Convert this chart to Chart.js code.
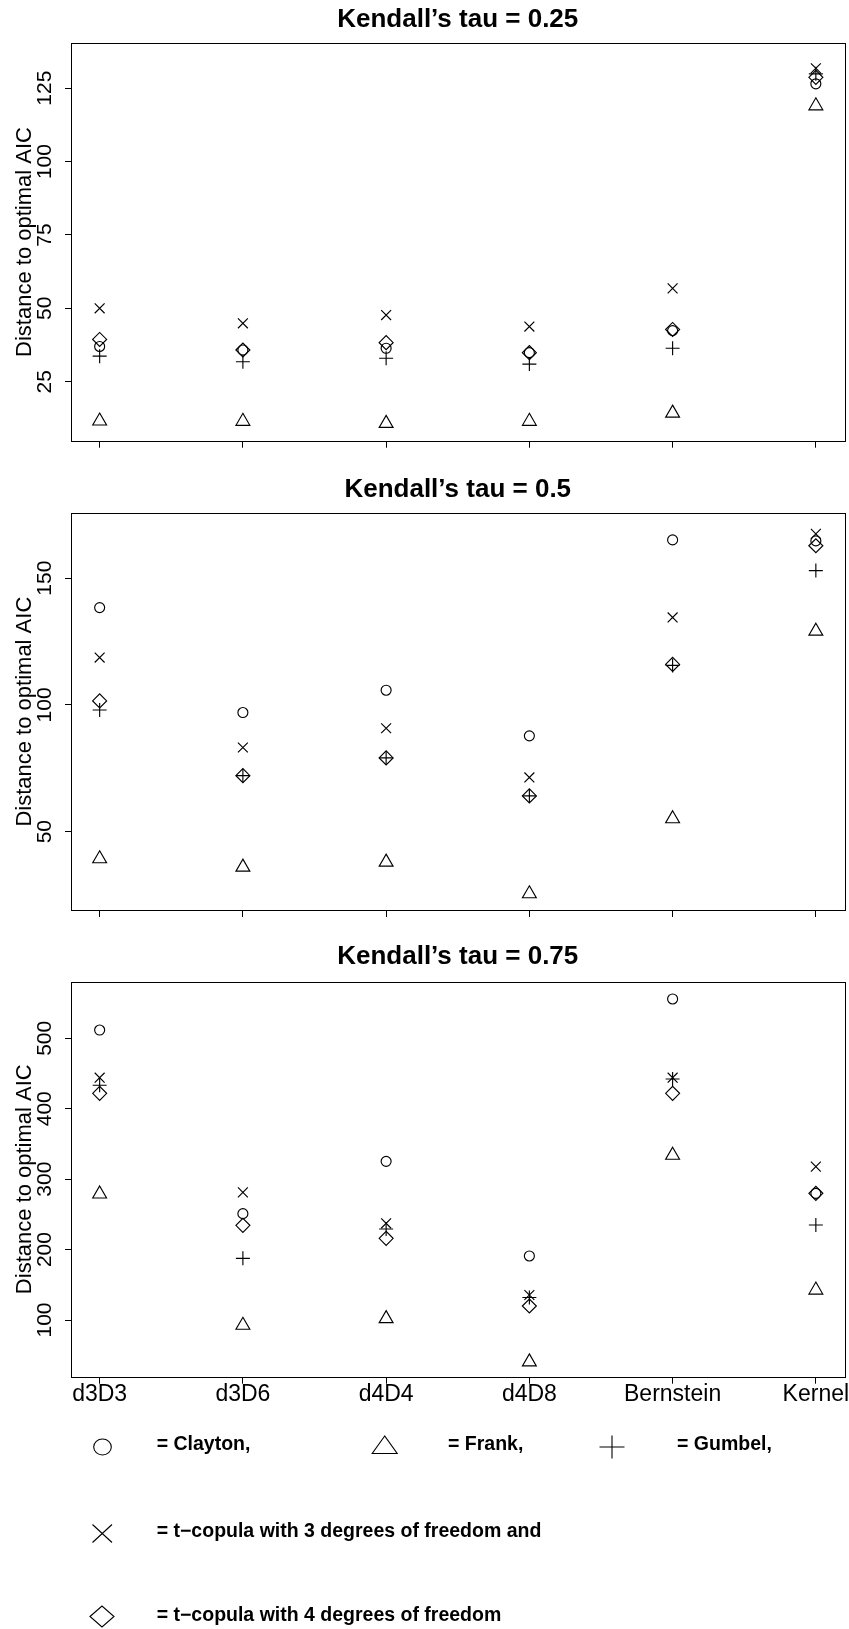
<!DOCTYPE html>
<html><head><meta charset="utf-8">
<script src="https://cdn.jsdelivr.net/npm/chart.js@4/dist/chart.umd.min.js"></script>
<style>
html,body{margin:0;padding:0;background:#fff;}
body{width:849px;height:1629px;position:relative;overflow:hidden;}
canvas{position:absolute;left:0;}
#legend{position:absolute;left:0;top:0;}
</style></head><body>
<canvas id="c1" width="849" height="470" style="top:0px;width:849px;height:470px"></canvas>
<canvas id="c2" width="849" height="468" style="top:470px;width:849px;height:468px"></canvas>
<canvas id="c3" width="849" height="480" style="top:938px;width:849px;height:480px"></canvas>
<svg id="legend" width="849" height="1629" xmlns="http://www.w3.org/2000/svg"></svg>
<script>
// ---- data ----
const categories = ['d3D3', 'd3D6', 'd4D4', 'd4D8', 'Bernstein', 'Kernel'];
const copulas = ['Clayton', 'Frank', 'Gumbel', 't-copula 3 df', 't-copula 4 df'];

// Kendall's tau = 0.25
const clayton25 = [37.0, 35.8, 36.4, 34.9, 42.4, 126.5];
const frank25   = [11.6, 11.5, 10.8, 11.5, 14.3, 119.0];
const gumbel25  = [33.7, 31.8, 33.0, 31.0, 36.4, 129.9];
const t3_25     = [50.0, 44.9, 47.7, 43.8, 56.8, 131.8];
const t4_25     = [39.4, 35.8, 38.3, 34.9, 42.8, 128.7];

// Kendall's tau = 0.5
const clayton50 = [138.4, 97.0, 105.8, 87.8, 165.1, 164.7];
const frank50   = [39.3, 36.0, 38.0, 25.5, 55.1, 129.1];
const gumbel50  = [98.0, 72.1, 79.1, 64.1, 115.6, 153.0];
const t3_50     = [118.7, 83.2, 90.8, 71.4, 134.5, 167.5];
const t4_50     = [101.6, 72.1, 79.1, 64.1, 116.0, 162.8];

// Kendall's tau = 0.75
const clayton75 = [511.8, 251.0, 325.3, 190.9, 555.9, 279.9];
const frank75   = [279.0, 92.5, 102.0, 40.5, 334.0, 142.5];
const gumbel75  = [433.3, 187.6, 229.2, 132.0, 442.2, 234.9];
const t3_75     = [444.1, 281.3, 237.3, 135.5, 444.1, 317.8];
const t4_75     = [421.9, 234.4, 216.0, 119.9, 421.9, 279.9];

const titles = ['Kendall\u2019s tau = 0.25', 'Kendall\u2019s tau = 0.5', 'Kendall\u2019s tau = 0.75'];
const yStep = [25, 50, 100];
const yRange = [[4.9, 140.3], [19.1, 175.6], [19.5, 580.4]];
const yTitle = 'Distance to optimal AIC';

// ---- styling / layout ----
const FONT = "'Liberation Sans', Arial, Helvetica, sans-serif";
Chart.defaults.font.family = FONT;
Chart.defaults.color = '#000';

const styles = [
  {pointStyle: 'circle', radius: 5},
  {pointStyle: 'triangle', radius: 8},
  {pointStyle: 'cross', radius: 7},
  {pointStyle: 'crossRot', radius: 7},
  {pointStyle: 'rectRot', radius: 7}
];

const layouts = [
  {id: 'c1', top: 0,   h: 470, titleC: 20,    areaTop: 43.3,  areaBottom: 440.7, showX: false},
  {id: 'c2', top: 470, h: 468, titleC: 490,   areaTop: 513.3, areaBottom: 910,   showX: false},
  {id: 'c3', top: 938, h: 480, titleC: 956.7, areaTop: 981.7, areaBottom: 1376.7, showX: true}
];
const panelSeries = [
  [clayton25, frank25, gumbel25, t3_25, t4_25],
  [clayton50, frank50, gumbel50, t3_50, t4_50],
  [clayton75, frank75, gumbel75, t3_75, t4_75]
];

const boxPlugin = {
  id: 'box',
  afterDraw(chart) {
    const {ctx, chartArea: a} = chart;
    ctx.save();
    ctx.strokeStyle = '#000';
    ctx.lineWidth = 1;
    ctx.strokeRect(Math.round(a.left) + 0.5, Math.round(a.top) + 0.5,
                   Math.round(a.right) - Math.round(a.left), Math.round(a.bottom) - Math.round(a.top));
    ctx.restore();
  }
};

const TITLE_SIZE = 26, TITLE_LH = TITLE_SIZE * 1.2;

layouts.forEach((L, k) => {
  const padTop = L.titleC - L.top - TITLE_LH / 2;
  const padBottom = L.areaTop - L.top - padTop - TITLE_LH;
  const xAxisH = L.top + L.h - L.areaBottom;
  const datasets = panelSeries[k].map((vals, s) => ({
    label: copulas[s],
    data: vals.map((v, i) => ({x: i + 1, y: v})),
    showLine: false,
    pointStyle: styles[s].pointStyle,
    pointRadius: styles[s].radius,
    pointHoverRadius: styles[s].radius,
    pointBorderColor: '#000',
    pointBackgroundColor: 'rgba(0,0,0,0)',
    pointBorderWidth: 1.15,
    borderColor: '#000',
    backgroundColor: 'rgba(0,0,0,0)'
  }));
  new Chart(document.getElementById(L.id), {
    type: 'scatter',
    data: {datasets},
    options: {
      responsive: false,
      animation: false,
      devicePixelRatio: 1,
      layout: {autoPadding: false, padding: {left: 0, right: 4.5, top: 0, bottom: 0}},
      plugins: {
        legend: {display: false},
        tooltip: {enabled: false},
        title: {
          display: true, text: titles[k], fullSize: false,
          color: '#000',
          font: {size: TITLE_SIZE, weight: 'bold', family: FONT},
          padding: {top: padTop, bottom: padBottom}
        }
      },
      scales: {
        x: {
          type: 'linear', position: 'bottom',
          min: 0.8, max: 6.2,
          afterFit(scale) { scale.height = xAxisH; },
          grid: {display: true, drawOnChartArea: false, drawTicks: true, tickLength: 7, color: '#000', lineWidth: 1},
          border: {display: false},
          ticks: {
            display: L.showX, stepSize: 1, includeBounds: false, autoSkip: false,
            maxRotation: 0, minRotation: 0, padding: -3,
            font: {size: 23, family: FONT}, color: '#000',
            callback: (v) => categories[v - 1] !== undefined ? categories[v - 1] : ''
          }
        },
        y: {
          type: 'linear', position: 'left',
          min: yRange[k][0], max: yRange[k][1],
          afterFit(scale) { scale.width = 71; },
          grid: {display: true, drawOnChartArea: false, drawTicks: true, tickLength: 6, color: '#000', lineWidth: 1},
          border: {display: false},
          title: {display: true, text: yTitle, color: '#000', font: {size: 22, family: FONT}, padding: {top: 11.8, bottom: 0}},
          ticks: {
            stepSize: yStep[k], includeBounds: false, autoSkip: false,
            minRotation: 90, maxRotation: 90, crossAlign: 'center', padding: 2,
            font: {size: 21, family: FONT}, color: '#000'
          }
        }
      }
    },
    plugins: [boxPlugin]
  });
});

// ---- legend (symbols + text) ----
const svg = document.getElementById('legend');
const NS = 'http://www.w3.org/2000/svg';
function el(tag, attrs) {
  const e = document.createElementNS(NS, tag);
  for (const a in attrs) e.setAttribute(a, attrs[a]);
  svg.appendChild(e);
  return e;
}
const stroke = {fill: 'none', stroke: '#000', 'stroke-width': 1.1};
el('ellipse', Object.assign({cx: 102.5, cy: 1447, rx: 8.8, ry: 8}, stroke));
el('polygon', Object.assign({points: '384.7,1436 372.2,1453.5 397.2,1453.5'}, stroke));
el('path', Object.assign({d: 'M599.5,1447 L624.5,1447 M612,1435.5 L612,1458.5'}, stroke));
el('path', Object.assign({d: 'M92.5,1524.5 L112,1542.5 M92.5,1542.5 L112,1524.5'}, stroke));
el('polygon', Object.assign({points: '90,1616.5 102,1606 114,1616.5 102,1627'}, stroke));
const legendTexts = [
  ['= Clayton,', 156.7, 1450.3],
  ['= Frank,', 448, 1450.3],
  ['= Gumbel,', 677, 1450.3],
  ['= t\u2212copula with 3 degrees of freedom and', 156.7, 1537],
  ['= t\u2212copula with 4 degrees of freedom', 156.7, 1620.5]
];
legendTexts.forEach(([t, x, y]) => {
  const e = el('text', {x, y, 'font-family': FONT, 'font-size': 19.5, 'font-weight': 'bold', fill: '#000'});
  e.textContent = t;
});
</script>
</body></html>
